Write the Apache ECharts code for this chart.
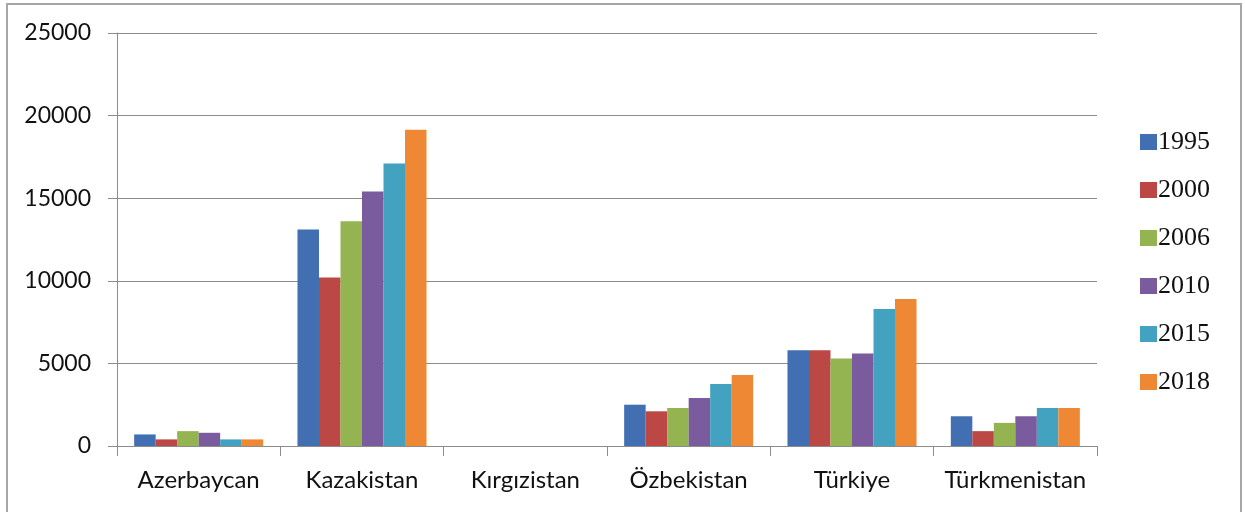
<!DOCTYPE html>
<html>
<head>
<meta charset="utf-8">
<script src="https://cdn.jsdelivr.net/npm/echarts@6/dist/echarts.min.js"></script>
<style>
html,body{margin:0;padding:0;background:#fff;}
#chart{width:1245px;height:512px;}
</style>
</head>
<body>
<div id="chart"></div>
<script>
const categories = ['Azerbaycan', 'Kazakistan', 'Kırgızistan', 'Özbekistan', 'Türkiye', 'Türkmenistan'];
const years = ['1995', '2000', '2006', '2010', '2015', '2018'];
const v1995 = [700, 13100, 0, 2500, 5800, 1800];
const v2000 = [400, 10200, 0, 2100, 5800, 900];
const v2006 = [900, 13600, 0, 2300, 5300, 1400];
const v2010 = [800, 15400, 0, 2900, 5600, 1800];
const v2015 = [400, 17100, 0, 3750, 8300, 2300];
const v2018 = [400, 19150, 0, 4300, 8900, 2300];
const yTicks = { min: 0, max: 25000, interval: 5000 };

const seriesValues = [v1995, v2000, v2006, v2010, v2015, v2018];
const colors = ['#416fb1', '#bb4845', '#94b452', '#7a5b9d', '#42a2bf', '#ee8834'];

const chart = echarts.init(document.getElementById('chart'));
chart.setOption({
  animation: false,
  backgroundColor: '#fff',
  color: colors,
  graphic: [{
    type: 'rect',
    shape: { x: 7, y: 4, width: 1234, height: 530 },
    style: { fill: 'none', stroke: '#a6a6a6', lineWidth: 2 },
    silent: true
  }],
  grid: { left: 117, top: 33, right: 148, bottom: 66 },
  legend: {
    orient: 'vertical',
    left: 1135,
    top: 124,
    itemWidth: 17,
    itemHeight: 16,
    itemGap: 22,
    icon: 'rect',
    textStyle: { fontFamily: 'Liberation Serif', fontSize: 26, lineHeight: 26, color: '#111', padding: [0, 0, 0, -4] },
    data: years
  },
  xAxis: {
    type: 'category',
    data: categories,
    axisLine: { lineStyle: { color: '#8c8c8c', width: 1 } },
    axisTick: { show: true, length: 10, alignWithLabel: false, lineStyle: { color: '#8c8c8c' } },
    axisLabel: { fontFamily: 'Lato', fontSize: 24, color: '#111', margin: 22, interval: 0 }
  },
  yAxis: {
    type: 'value',
    min: yTicks.min,
    max: yTicks.max,
    interval: yTicks.interval,
    axisLine: { show: true, lineStyle: { color: '#8c8c8c', width: 1 } },
    axisTick: { show: true, length: 9, lineStyle: { color: '#8c8c8c' } },
    splitLine: { lineStyle: { color: '#8c8c8c', width: 1 } },
    axisLabel: { fontFamily: 'Lato', fontSize: 23, color: '#111', margin: 26, formatter: v => String(v) }
  },
  series: years.map((y, i) => ({
    name: y,
    type: 'bar',
    data: seriesValues[i],
    barGap: '0%',
    barCategoryGap: '21%'
  }))
});
</script>
</body>
</html>
